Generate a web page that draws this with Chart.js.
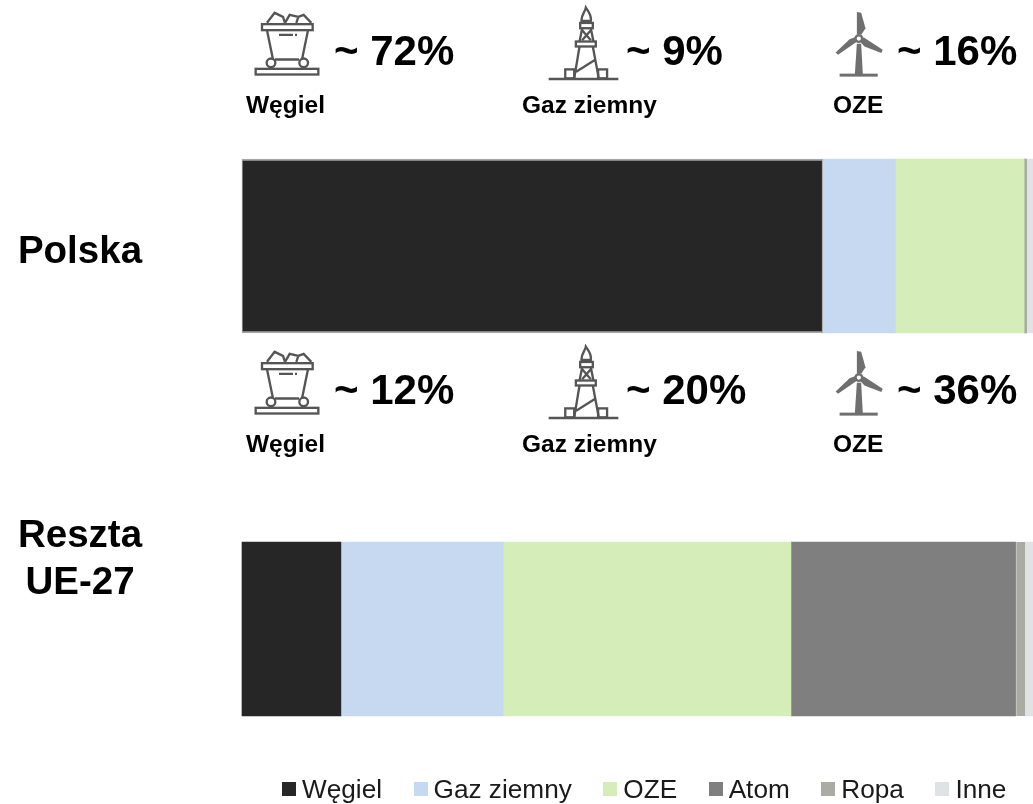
<!DOCTYPE html>
<html>
<head>
<meta charset="utf-8">
<script src="https://cdn.jsdelivr.net/npm/chart.js@4"></script>
<style>
  html, body { margin: 0; padding: 0; background: #fff; }
  body { width: 1033px; height: 804px; overflow: hidden; position: relative; font-family: "Liberation Sans", Arial, sans-serif; color: #000; }
  canvas { position: absolute; left: 0; top: 0; }
  .txt { position: absolute; white-space: nowrap; line-height: 1; }
  .row { position: absolute; left: 0; width: 1033px; height: 130px; }
  .pct { font-weight: bold; font-size: 42px; top: 30px; }
  .name { font-weight: bold; font-size: 24.5px; top: 93px; }
  .region { font-weight: bold; font-size: 38.5px; line-height: 47px; text-align: center; width: 160px; left: 0; }
  .row svg { position: absolute; overflow: visible; }
  .ic { fill: none; stroke: #555; stroke-width: 7; }
  #legend { position: absolute; left: 282px; top: 775px; width: 800px; display: flex; font-size: 26.2px; line-height: 28px; color: #1a1a1a; white-space: nowrap; }
  #legend .item { display: flex; flex: none; align-items: center; margin-right: 31.5px; }
  #legend i { display: block; width: 14px; height: 14px; margin-right: 6px; }
</style>
</head>
<body>
<canvas id="myChart" width="1033" height="804"></canvas>

<svg width="0" height="0" style="position:absolute">
  <symbol id="wagon" viewBox="40 20 210 215">
    <g class="ic">
      <path d="M82 70 L105 40 L130 52 L136 70 M136 70 L150 46 L176 52 L170 70 M176 52 L192 46 L215 70"/>
      <rect x="67" y="74" width="152" height="18"/>
      <path d="M82 92 L100 180 M205 92 L187 180 M106 180 H178"/>
      <path d="M118 106 H160 M166 106 H172"/>
      <circle cx="94" cy="190" r="13"/>
      <circle cx="192" cy="190" r="13"/>
      <rect x="48" y="208" width="188" height="17"/>
    </g>
  </symbol>
  <symbol id="rig" viewBox="920 15 235 230">
    <g class="ic">
      <path d="M1024 62 C1022 45 1035 35 1037 22 C1045 35 1055 45 1052 62 Z"/>
      <rect x="1020" y="68" width="38" height="16"/>
      <rect x="1007" y="124" width="60" height="15"/>
      <path d="M1026 84 L1018 124 M1052 84 L1060 124 M1026 90 L1052 120 M1052 90 L1026 120"/>
      <path d="M1018 139 L1002 235 M1058 139 L1076 235 M1008 215 L1064 180"/>
      <rect x="975" y="208" width="27" height="27"/>
      <rect x="1074" y="208" width="27" height="27"/>
      <path d="M925 237 H1135"/>
    </g>
  </symbol>
  <symbol id="turbine" viewBox="100 30 160 205">
    <g fill="#6f6f6f">
      <path d="M172 36 L185 38 L198 85 L186 104 L172 102 Z"/>
      <path d="M108 158 L150 118 L166 112 L172 126 L115 165 Z"/>
      <path d="M192 112 L250 150 L246 160 L195 140 L184 128 Z"/>
      <path d="M172 132 L185 132 L190 224 L166 224 Z"/>
      <rect x="120" y="222" width="115" height="9"/>
    </g>
    <circle cx="178" cy="116" r="10" fill="none" stroke="#6f6f6f" stroke-width="7"/>
  </symbol>
</svg>

<div class="row" id="row0" style="top:0"></div>
<div class="row" id="row1" style="top:339px"></div>
<div class="txt region" style="top:226px">Polska</div>
<div class="txt region" style="top:510px">Reszta<br>UE-27</div>
<div id="legend"></div>

<script>
var categories = ["Polska", "Reszta UE-27"];

var seriesNames = ["Węgiel", "Gaz ziemny", "OZE", "Atom", "Ropa", "Inne"];
var wegiel = [73.4, 12.5];
var gaz = [9.2, 20.5];
var oze = [16.3, 36.4];
var atom = [0, 28.4];
var ropa = [0.3, 1.2];
var inne = [0.8, 1.0];

var colors = ["#262626", "#C6D9F1", "#D5EDB9", "#7F7F7F", "#ABABA5", "#E0E2E4"];

var iconNames = ["Węgiel", "Gaz ziemny", "OZE"];
var polskaPct = ["~ 72%", "~ 9%", "~ 16%"];
var resztaPct = ["~ 12%", "~ 20%", "~ 36%"];

var iconSlots = [
    { id: "wagon", left: 253, top: 6, w: 70, h: 72, pctX: 334, nameX: 246 },
    { id: "rig", left: 547, top: 5, w: 78, h: 77, pctX: 626, nameX: 522 },
    { id: "turbine", left: 833, top: 10, w: 53, h: 68, pctX: 897, nameX: 833 }
];

function fillRow(el, pcts) {
    iconSlots.forEach((s, i) => {
        el.innerHTML +=
            '<svg style="left:' + s.left + 'px;top:' + s.top + 'px" width="' + s.w + '" height="' + s.h + '"><use href="#' + s.id + '"/></svg>' +
            '<div class="txt pct" style="left:' + s.pctX + 'px">' + pcts[i] + '</div>' +
            '<div class="txt name" style="left:' + s.nameX + 'px">' + iconNames[i] + '</div>';
    });
}
fillRow(document.getElementById("row0"), polskaPct);
fillRow(document.getElementById("row1"), resztaPct);

var seriesValues = [wegiel, gaz, oze, atom, ropa, inne];

// legend box to text gap is tighter than the built in legend allows, so html legend from the chart
var htmlLegend = {
    id: "htmlLegend",
    afterUpdate(chart) {
        var box = document.getElementById("legend");
        box.innerHTML = "";
        chart.data.datasets.forEach(ds => {
            var item = document.createElement("div");
            item.className = "item";
            item.innerHTML = '<i style="background:' + ds.backgroundColor + '"></i><span>' + ds.label + '</span>';
            box.appendChild(item);
        });
    }
};

// thin edges seen in the picture: grey round the Polish coal block, white slit before Ropa
var edgeColors = { 0: ["#A6A6A6", "#262626"], 4: ["#ABABA5", "#FFFFFF"] };
var edgeWidths = { 0: [{ top: 2, bottom: 2, left: 1, right: 1 }, 0], 4: [0, { left: 1, right: 0, top: 0, bottom: 0 }] };

var chart = new Chart(document.getElementById("myChart"), {
    type: "bar",
    plugins: [htmlLegend],
    data: {
        labels: categories,
        datasets: seriesNames.map((name, i) => ({
            label: name,
            data: seriesValues[i],
            backgroundColor: colors[i],
            borderColor: edgeColors[i] || colors[i],
            borderWidth: edgeWidths[i] || 0,
            borderSkipped: false,
            barThickness: 174,
            clip: false
        }))
    },
    options: {
        indexAxis: "y",
        responsive: false,
        animation: false,
        layout: { padding: { left: 242, right: 0, top: 246, bottom: 175 } },
        plugins: { legend: { display: false }, tooltip: { enabled: false } },
        scales: {
            x: { stacked: true, display: false, min: 0, max: 100 },
            y: { stacked: true, display: false, offset: false, grid: { offset: false } }
        }
    }
});
</script>
</body>
</html>
